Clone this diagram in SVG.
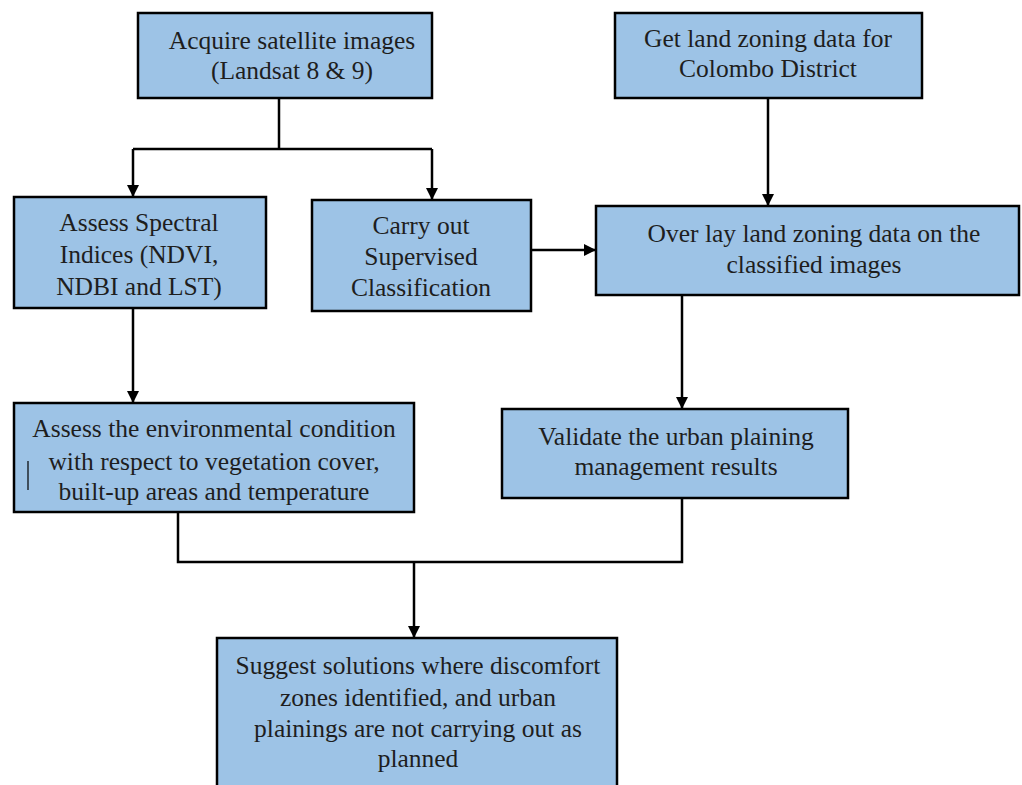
<svg xmlns="http://www.w3.org/2000/svg" width="1022" height="785" viewBox="0 0 1022 785">
<style>
.box{fill:#9dc3e6;stroke:#000;stroke-width:2.5}
.t{font-family:"Liberation Serif","Times New Roman",serif;font-size:25.5px;fill:#1e1e1e;text-anchor:middle;dominant-baseline:central}
.c{fill:none;stroke:#000;stroke-width:2.5}
</style>
<defs>
<marker id="ah" markerUnits="userSpaceOnUse" markerWidth="14" markerHeight="14" viewBox="0 0 14 14" refX="12" refY="7" orient="auto">
<path d="M0,1 L12,7 L0,13 Z" fill="#000"/>
</marker>
</defs>
<rect width="1022" height="785" fill="#fff"/>
<g id="connectors">
<path class="c" d="M279,98 V149"/>
<path class="c" d="M133,149 H432"/>
<path class="c" d="M133,149 V197" marker-end="url(#ah)"/>
<path class="c" d="M432,149 V200" marker-end="url(#ah)"/>
<path class="c" d="M768,98 V206" marker-end="url(#ah)"/>
<path class="c" d="M531,250 H596" marker-end="url(#ah)"/>
<path class="c" d="M133,308 V403" marker-end="url(#ah)"/>
<path class="c" d="M682,295 V409" marker-end="url(#ah)"/>
<path class="c" d="M178,512 V562 H682 V498"/>
<path class="c" d="M414,562 V638" marker-end="url(#ah)"/>
</g>
<g id="n1">
<rect class="box" x="138" y="13" width="294" height="85"/>
<text class="t" x="292" y="40">Acquire satellite images</text>
<text class="t" x="292" y="70">(Landsat 8 &amp; 9)</text>
</g>
<g id="n2">
<rect class="box" x="615" y="13" width="307" height="85"/>
<text class="t" x="768" y="38">Get land zoning data for</text>
<text class="t" x="768" y="68">Colombo District</text>
</g>
<g id="n3">
<rect class="box" x="14" y="197" width="252" height="111"/>
<text class="t" x="139" y="222">Assess Spectral</text>
<text class="t" x="139" y="254">Indices (NDVI,</text>
<text class="t" x="139" y="286">NDBI and LST)</text>
</g>
<g id="n4">
<rect class="box" x="312" y="200" width="219" height="111"/>
<text class="t" x="421" y="225">Carry out</text>
<text class="t" x="421" y="256">Supervised</text>
<text class="t" x="421" y="287">Classification</text>
</g>
<g id="n5">
<rect class="box" x="596" y="206" width="423" height="89"/>
<text class="t" x="814" y="233">Over lay land zoning data on the</text>
<text class="t" x="814" y="264">classified images</text>
</g>
<g id="n6">
<rect class="box" x="14" y="403" width="400" height="109"/>
<text class="t" x="214" y="428">Assess the environmental condition</text>
<text class="t" x="214" y="461">with respect to vegetation cover,</text>
<text class="t" x="214" y="491">built-up areas and temperature</text>
<line x1="28" y1="461" x2="28" y2="490" stroke="#000" stroke-width="1.2"/>
</g>
<g id="n7">
<rect class="box" x="502" y="409" width="346" height="89"/>
<text class="t" x="676" y="436">Validate the urban plaining</text>
<text class="t" x="676" y="466">management results</text>
</g>
<g id="n8">
<rect class="box" x="217" y="638" width="400" height="160"/>
<text class="t" x="418" y="665">Suggest solutions where discomfort</text>
<text class="t" x="418" y="697">zones identified, and urban</text>
<text class="t" x="418" y="728">plainings are not carrying out as</text>
<text class="t" x="418" y="758">planned</text>
</g>
</svg>
